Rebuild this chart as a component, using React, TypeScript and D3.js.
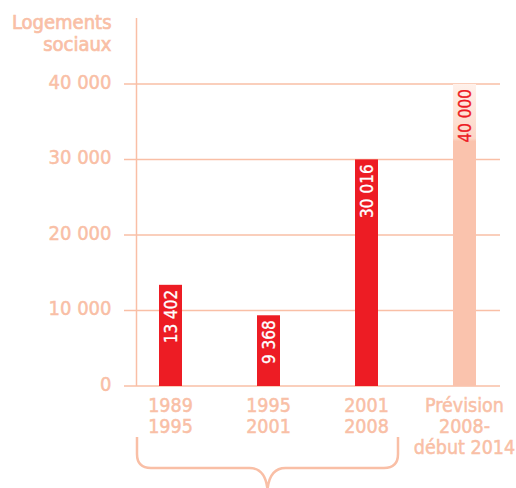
import { useEffect, useRef } from "react";
import * as d3 from "d3";

const categories = ["1989-1995", "1995-2001", "2001-2008", "prevision"];
const categoryLines = [
  ["1989", "1995"],
  ["1995", "2001"],
  ["2001", "2008"],
  ["Prévision", "2008-", "début 2014"],
];
const values = [13402, 9368, 30016, 40000];
const valueLabels = ["13 402", "9 368", "30 016", "40 000"];
const forecast = [false, false, false, true];
const yTicks = [0, 10000, 20000, 30000, 40000];
const yTickLabels = ["0", "10 000", "20 000", "30 000", "40 000"];
const axisTitle = ["Logements", "sociaux"];

const W = 516;
const H = 488;
const FONT = "'DejaVu Sans Condensed', 'DejaVu Sans', sans-serif";
const SALMON = "#f9bfa6";
const RED = "#ed1c24";
const PALE = "#fac3ad";
const BAR_W = 23;

export default function App() {
  const svgRef = useRef<SVGSVGElement>(null);

  useEffect(() => {
    const svg = d3.select(svgRef.current);
    svg.selectAll("*").remove();

    const x = d3.scalePoint<string>().domain(categories).range([170.5, 464.5]);
    const y = d3.scaleLinear().domain([0, 40000]).range([386, 84]);
    const axisX = 136.5;

    const defs = svg.append("defs");
    const grad = defs
      .append("linearGradient")
      .attr("id", "fade")
      .attr("x1", 0)
      .attr("x2", 0)
      .attr("y1", 0)
      .attr("y2", 1);
    grad.append("stop").attr("offset", "0%").attr("stop-color", "#fff1ea");
    grad.append("stop").attr("offset", "18%").attr("stop-color", "#fcd6c6");
    grad.append("stop").attr("offset", "19%").attr("stop-color", PALE);
    grad.append("stop").attr("offset", "100%").attr("stop-color", PALE);

    // grid lines
    svg
      .append("g")
      .selectAll("line")
      .data(yTicks)
      .enter()
      .append("line")
      .attr("x1", 124)
      .attr("x2", 500)
      .attr("y1", (d) => y(d))
      .attr("y2", (d) => y(d))
      .attr("stroke", SALMON)
      .attr("stroke-width", 1.5);

    // vertical axis
    svg
      .append("line")
      .attr("x1", axisX)
      .attr("x2", axisX)
      .attr("y1", 18)
      .attr("y2", y(0))
      .attr("stroke", SALMON)
      .attr("stroke-width", 1.5);

    svg
      .append("g")
      .selectAll("text")
      .data(yTicks)
      .enter()
      .append("text")
      .attr("x", 111.5)
      .attr("y", (d) => y(d) + 4.5)
      .attr("text-anchor", "end")
      .attr("fill", SALMON)
      .attr("stroke", SALMON)
      .attr("stroke-width", 0.5)
      .attr("font-size", 20)
      .attr("font-family", FONT)
      .text((_, i) => yTickLabels[i]);

    svg
      .append("g")
      .selectAll("text")
      .data(axisTitle)
      .enter()
      .append("text")
      .attr("x", 111.5)
      .attr("y", (_, i) => 29 + i * 22)
      .attr("text-anchor", "end")
      .attr("fill", SALMON)
      .attr("stroke", SALMON)
      .attr("stroke-width", 0.7)
      .attr("font-size", 20)
      .attr("font-family", FONT)
      .text((d) => d);

    // bars
    svg
      .append("g")
      .selectAll("rect")
      .data(values)
      .enter()
      .append("rect")
      .attr("x", (_, i) => (x(categories[i]) as number) - BAR_W / 2)
      .attr("y", (d) => y(d))
      .attr("width", BAR_W)
      .attr("height", (d) => y(0) - y(d))
      .attr("fill", (_, i) => (forecast[i] ? "url(#fade)" : RED));

    svg
      .append("g")
      .selectAll("text")
      .data(values)
      .enter()
      .append("text")
      .attr("transform", (d, i) => `translate(${(x(categories[i]) as number) + 6.5},${y(d) + 5}) rotate(-90)`)
      .attr("text-anchor", "end")
      .attr("fill", (_, i) => (forecast[i] ? RED : "#fff"))
      .attr("stroke", (_, i) => (forecast[i] ? RED : "#fff"))
      .attr("stroke-width", 0.3)
      .attr("font-size", 17)
      .attr("font-family", FONT)
      .text((_, i) => valueLabels[i]);

    // category labels
    const cat = svg
      .append("g")
      .selectAll("text")
      .data(categoryLines)
      .enter()
      .append("text")
      .attr("x", (_, i) => x(categories[i]) as number)
      .attr("text-anchor", "middle")
      .attr("fill", SALMON)
      .attr("stroke", SALMON)
      .attr("stroke-width", 0.5)
      .attr("font-size", 19.5)
      .attr("font-family", FONT);
    cat
      .selectAll("tspan")
      .data((d) => d)
      .enter()
      .append("tspan")
      .attr("x", function () {
        return (this.parentNode as SVGTextElement).getAttribute("x");
      })
      .attr("y", (_, j) => 412 + j * 21)
      .text((d) => d);

    // brace under the first three periods
    const left = (x(categories[0]) as number) - 33.5;
    const right = (x(categories[2]) as number) + 31.5;
    const mid = (left + right) / 2;
    const top = 437;
    const bar = 468;
    const tip = 490;
    const path = d3.path();
    path.moveTo(left, top);
    path.lineTo(left, bar - 14);
    path.quadraticCurveTo(left, bar, left + 14, bar);
    path.lineTo(mid - 18, bar);
    path.quadraticCurveTo(mid - 2, bar, mid, tip);
    path.quadraticCurveTo(mid + 2, bar, mid + 18, bar);
    path.lineTo(right - 14, bar);
    path.quadraticCurveTo(right, bar, right, bar - 14);
    path.lineTo(right, top);
    svg
      .append("path")
      .attr("d", path.toString())
      .attr("fill", "none")
      .attr("stroke", SALMON)
      .attr("stroke-width", 2.5);
  }, []);

  return (
    <div style={{ position: "absolute", left: 0, top: 0, width: W, height: H, background: "#fff" }}>
      <svg ref={svgRef} width={W} height={H} />
    </div>
  );
}
